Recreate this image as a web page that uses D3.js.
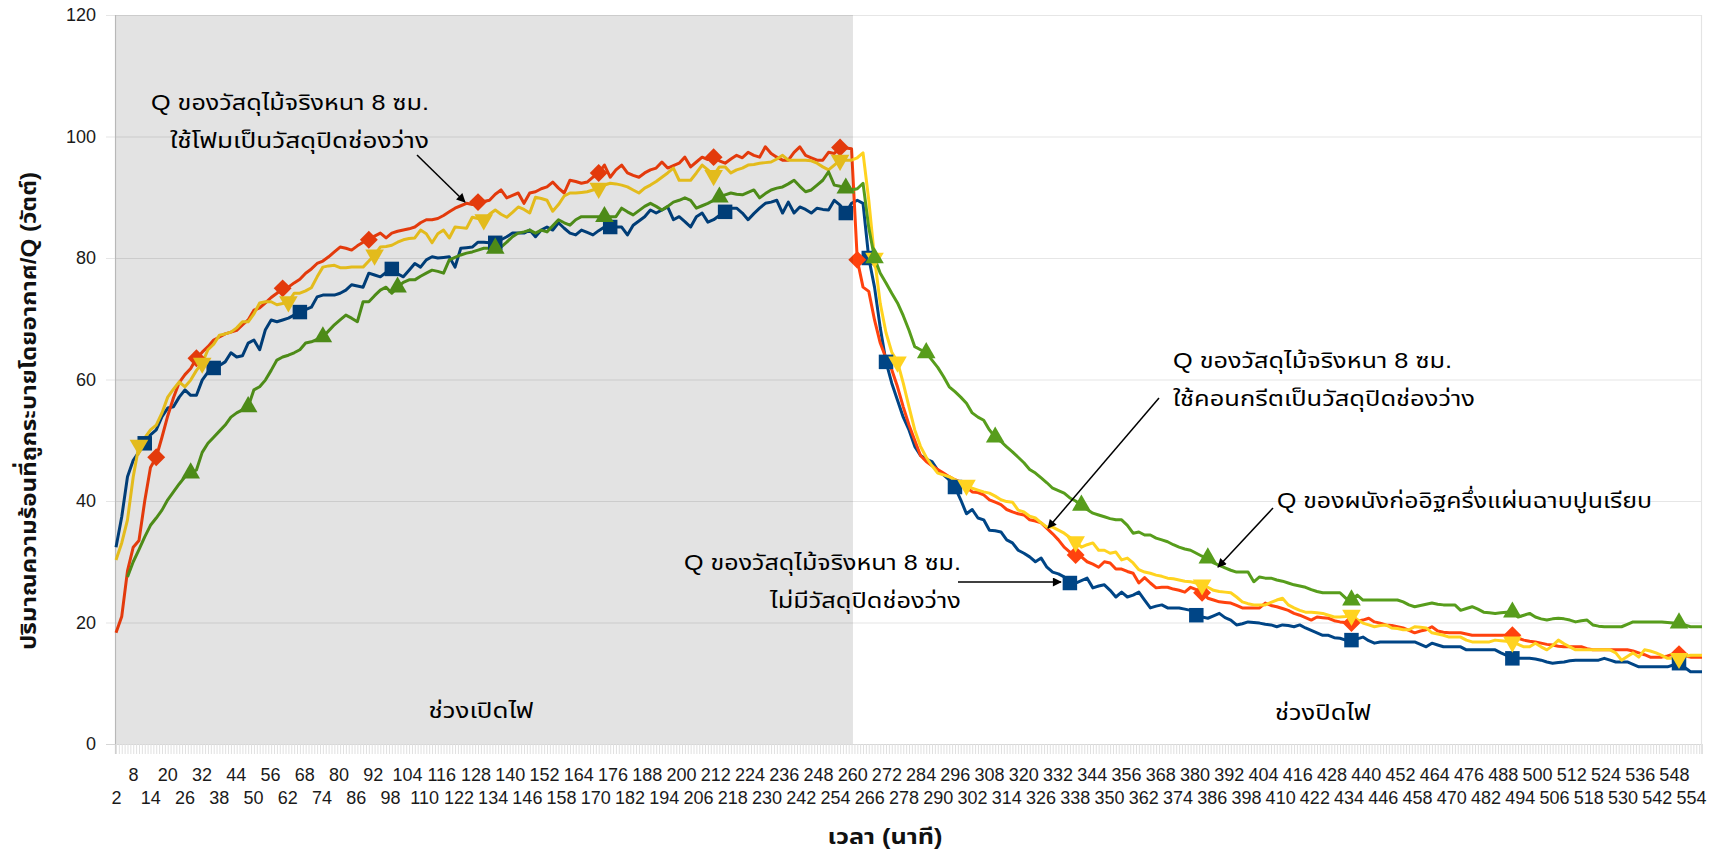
<!DOCTYPE html>
<html><head><meta charset="utf-8">
<script src="https://cdn.jsdelivr.net/npm/d3@7"></script>
<style>
html,body{margin:0;padding:0;background:#fff;}
svg{display:block;}
text{font-family:"Liberation Sans","Noto Sans Thai","Noto Sans",Arial,sans-serif;}
</style></head><body>
<svg id="chart" width="1716" height="854"></svg>
<script>
// ---------- DATA ----------
const minutes = d3.range(2, 556, 2); // 2,4,...,554 (นาที)
const yTicks = [0, 20, 40, 60, 80, 100, 120];
const lampOffMinute = 258.5;

const qNoFill = [ // blue, ไม่มีวัสดุปิดช่องว่าง
32.4,37.4,44,46.7,48.1,49.5,50.9,51.7,53.9,55.3,
55.5,57.1,58.3,57.4,57.4,59.9,61.2,61.9,62.3,62.9,
64.4,63.7,63.9,66,66.5,64.9,68.2,69.8,69.5,69.8,
70.1,70.6,71.1,71.5,71.9,73.6,73.9,73.9,73.9,74.2,
74.7,75.6,75.4,75.2,77.5,77.2,76.9,77.6,78.2,77.4,
76.9,78,79.1,78.5,79.7,80.2,80,80.1,80.2,78.5,
81.6,81.7,81.8,82.6,82.6,82.5,82.5,83,83.5,84.1,
84.1,84.1,84.6,83.5,84.6,85.1,84.6,85.8,84.9,84.1,
83.8,84.6,84.2,83.8,84.5,85.1,85.1,85.1,85.1,83.8,
85.4,86.1,86.8,87.9,87.4,87.9,88.4,86.3,86.8,86,
85.1,86.8,87.4,85.9,86.3,87,87.6,88.2,88.2,87.4,
86.3,87.3,88.2,89,89.2,89.5,87.4,89.2,87.4,88.4,
88,87.4,88.2,88,87.9,89.5,88.7,87.4,89,89.5,
89,80,75.2,68.5,62.9,59.4,56.6,53.8,51.7,49,
47.5,46.9,46.5,45.1,44.3,43.5,42.3,40.2,37.9,38.6,
37.2,36.9,35.2,35.1,34.9,33.6,33.1,31.9,31.4,30.8,
30,30.6,29.1,28.3,28,27.5,26.5,26.5,26.9,27.3,
25.7,26,26.2,25.3,24.2,25,24.2,24.5,25,23.7,
22.4,22.7,22.9,22.4,22.4,22.4,22.2,22,21.2,20.9,
20.7,21.1,21.5,20.8,20.4,19.6,19.8,20.1,20,19.9,
19.7,19.6,19.3,19.6,19.5,19.3,19.6,19.1,18.7,18.3,
17.9,17.9,17.5,17.4,17.1,17.1,17.3,17.6,17,16.6,
16.8,16.8,16.8,16.8,16.8,16.8,16.8,16.4,16,16.6,
16.3,16,16,16,16,15.5,15.5,15.5,15.5,15.5,
15.5,15,14.6,14.1,14.1,14.1,14.1,14,13.8,13.5,
13.3,13.4,13.5,13.7,13.8,13.8,13.8,13.8,13.8,14.1,
13.8,13.5,13.5,13.5,13.1,12.7,12.7,12.7,12.7,12.7,
12.7,13,13.3,12.6,11.9,11.9,11.9];

const qFoam = [ // red, ใช้โฟม
18.3,21,28.5,32.4,33.5,40,45.5,47.2,50.5,54,
57,59.5,60.8,61.8,63.5,64.5,65.4,66.5,67,67.5,
67.8,68.1,69,69.8,71.4,71.8,72.6,73.5,74.2,75,
75.2,75.9,76.5,77.5,78.2,79.1,79.5,80.2,81,81.8,
81.6,81.3,82,82.6,83,83.6,84.1,83.3,84.1,84.4,
84.6,84.8,85.1,85.8,86.3,86.3,86.5,87,87.6,88.2,
88.6,89,88.8,89.2,89.3,89.5,90.5,91.2,89.9,90.3,
90.7,89,90.7,90.9,91.4,91.7,92.5,91.5,90.7,92.8,
92.6,92.3,92.5,93.3,94,95.3,93.3,94.5,95.3,94,
93.6,93.3,94,94.5,94.8,95.8,94.8,95.2,95.6,96.6,
95,95.8,96.6,96.2,96.6,96,95.6,96.3,96.9,96.5,
97.4,96.9,96.6,98.3,97.2,96.6,96.1,96.1,97.4,98.3,
96.9,96.5,96.1,96.1,97.4,97.2,98.2,98.1,98,79.7,
75.2,74.5,69.8,66,63.5,61.6,58.8,55.5,52.5,50,
47.5,46.5,45.8,45.2,44.6,44,43.5,43.1,42.3,41.5,
41.4,41,40.2,39.8,39.4,38.6,38.2,37.9,37.7,36.9,
36.7,36.4,35.5,34.6,33.6,32.4,31.6,31.1,30.8,30,
29.6,29.1,30,29.8,28.8,28.8,28.4,28.1,26.5,27.4,
26.5,25.7,25.8,25.8,25.5,25.3,25,25.8,25.4,24.9,
24,23.7,23.4,23.3,23.2,22.8,22.4,22.4,22.4,22.4,
23.2,22.8,22.6,22.3,22,21.5,21.2,20.8,20.4,20.9,
20.8,20.7,20.3,20.1,20,19.9,20.2,20.4,20.7,20.1,
19.9,19.6,19.5,19.3,19.1,18.7,18.3,18.6,18.8,19.3,
18.6,18.4,18.3,18.3,18.3,18.1,17.9,17.9,17.9,17.9,
17.9,17.9,17.9,17.9,17.4,17.1,16.9,16.8,16.6,16.4,
16.3,16.1,16,16,16,16,15.7,15.5,15.5,15.5,
15.5,15.5,15.5,15.5,15.3,15,14.7,14.3,14.3,14.3,
14.5,14.8,14.8,14.5,14.3,14.3,14.3];

const qConcrete = [ // yellow, ใช้คอนกรีต
30.3,33.1,36.9,44,49.2,50.4,51.7,52.5,54.5,57.1,
58.4,59.6,58.8,59.9,61.5,62.7,64.9,65.8,67.3,67.5,
67.8,68.5,69.5,69.5,70.8,72.6,72.8,72.8,72.3,72.5,
72.8,74.2,74.2,74.6,75.1,76.9,78.5,78.7,78.8,78.4,
78.4,78.5,78.5,78.5,79.5,80.5,81.8,81.9,82.1,82.6,
83,83.2,83.3,84.6,84,82.5,84,84.6,83.3,85.1,
85,84.9,86.7,86.5,86.3,87.2,87.9,87.2,86.7,87.5,
88.4,88,87.4,90,89.8,89.5,87.7,88.8,90.2,90.7,
90.7,90.8,90.9,91.2,91.5,92,92.3,92.2,92,91.7,
91.2,90.7,91.5,92,92.6,93.3,94,94.8,92.8,92.8,
92.8,94,95.3,94.5,93.6,95,95,94,94.5,94.8,
95.3,95.4,95.6,95.7,95.8,96.3,96.9,96.1,96.1,96.1,
96.1,96,95.6,95,94.5,95.3,96.1,96.1,96.1,96.5,
97.3,89.5,80,72.5,67.7,64.5,62.9,59.4,55.5,51.7,
49,47.2,45.8,44.6,44.3,44,43.5,43,42.6,42.1,
41.8,41.5,41.3,40.8,40.2,39.9,39.8,38.5,38.2,37.5,
37.2,36.4,35.7,35.7,35.2,34.7,34,33.3,32.4,32.8,
33.1,31.9,31.9,31.4,31.6,30.3,30.6,29.8,28.7,28.3,
28.1,27.8,27.6,27.3,27.2,27,26.8,26.7,26.5,26.2,
25.8,25.3,25.1,25,24.9,24.2,23.4,23.1,22.9,22.9,
22.9,23.3,23.7,24,22.9,22.4,22,21.7,21.7,21.6,
21.5,21.2,20.9,20.9,21,21.2,20.5,19.9,19.6,19.3,
19.5,19.6,19.1,19,18.8,18.8,19.3,19.2,19.1,18.3,
18.1,17.9,17.6,17.6,17.6,17.1,16.8,16.8,16.8,16.8,
17.1,17,16.9,16.8,16.4,16,16,16.6,16,15.5,
16.2,17.1,16.5,16,15.5,15.5,15.5,15.5,15.5,15.5,
15.5,15,13.8,14.4,15,14.3,15.5,15.3,15,14.6,
14.1,14.1,14.1,14.4,14.6,14.6,14.6];

const qBrick = [ // green, ผนังก่ออิฐครึ่งแผ่น
null,null,27.5,30,32,34.1,36,37.2,38.5,40.2,
41.5,42.8,44,44.6,45.1,48,49.5,50.5,51.5,52.5,
53.8,54.5,55,55.5,58.3,58.8,59.9,61.5,63.2,63.7,
64,64.4,64.9,66,66.2,66.6,67,68,69,69.8,
70.6,70.1,69.5,72.8,72.8,73.8,74.7,75.2,74.2,75.2,
76,76.4,76.4,77,77.5,78,77.8,77.5,79.7,80.1,
80.5,80.8,81,81.3,81.6,81.6,81.6,81.8,82.6,83.5,
84.1,84.3,84.6,84.1,84.6,84.3,85.3,86.3,85.8,85.4,
86.3,86.8,86.8,86.8,86.8,86.8,86.8,86.8,88.2,87.6,
87.1,87.8,88.5,89,88.5,87.9,88.5,89.2,89.5,89.9,
89.5,88.2,88.6,89,89.5,90,90.4,90.7,90.5,90.4,
90.8,91.2,89.9,90.6,91.2,91.5,91.7,92.2,92.8,91.8,
90.9,91.2,92,92.8,94.2,92,91.8,91.5,91.2,91.4,
92.3,85,80,77.5,75.9,74.2,72.6,70.5,68.1,65.4,
64.9,64.4,63.2,62,60.5,58.8,58,57.1,56.1,54.5,
53.8,53.3,51.7,50.5,49.8,48.9,48.1,47.2,46.3,45.2,
44.6,43.8,43,42.1,41.7,41.3,40.5,40,39.3,38.6,
38,37.7,37.4,37.1,36.9,36.9,36,34.7,34.9,34.4,
34.4,33.9,33.6,33.3,32.8,32.4,32.1,31.9,31.4,30.9,
30.6,29.8,29.4,29,28.6,28.3,28.3,28.3,26.7,27.5,
27.3,27.3,27,26.8,26.5,26.2,26,25.8,25.4,25.1,
24.9,24.9,24.9,24.9,24,23.7,24.5,23.7,23.7,23.7,
23.7,23.7,23.7,23.7,23.4,22.9,22.6,22.8,23,23.2,
23,22.9,22.9,22.9,22,22.3,22.6,22.2,21.7,21.6,
21.5,21.6,21.7,21.7,20.9,21.2,21.5,20.9,20.6,20.4,
20.6,20.7,20.6,20.4,20.1,20.3,20.4,19.6,19.4,19.3,
19.3,19.3,19.3,19.7,20.1,20.1,20.1,20.1,20.1,20.1,
20,19.9,19.9,19.6,19.3,19.3,19.3];

// indices (into minutes) where the chart shows a marker
const markNoFill    = [5,17,32,48,66,86,106,127,131,134,146,166,188,215,243,272];
const markFoam      = [7,14,29,44,63,84,104,126,129,167,189,215,243,272];
const markConcrete  = [4,15,30,45,64,84,104,126,132,136,148,167,189,215,243,272];
const markBrick     = [13,23,36,49,66,85,105,127,132,141,153,168,190,215,243,272];

const series = [
  {name:"ไม่มีวัสดุปิดช่องว่าง", values:qNoFill, marks:markNoFill, color:"#004586", shape:"square"},
  {name:"ใช้โฟม", values:qFoam, marks:markFoam, color:"#ff420e", shape:"diamond"},
  {name:"ใช้คอนกรีต", values:qConcrete, marks:markConcrete, color:"#ffd320", shape:"down"},
  {name:"ผนังก่ออิฐ", values:qBrick, marks:markBrick, color:"#579d1c", shape:"up"}
];

// ---------- CHART ----------
const svg = d3.select("#chart");
const P = {left:115, right:1702, top:15, bottom:744};
const x = d3.scalePoint().domain(minutes).range([116, 1702]);
const xLabel = d3.scalePoint().domain(minutes).range([116, 1691]);
const xLin = d3.scaleLinear().domain([2, 554]).range([116, 1702]);
const y = d3.scaleLinear().domain([0, 120]).range([P.bottom, P.top]);

svg.append("rect").attr("width",1716).attr("height",854).attr("fill","#fff");

// gridlines
svg.append("g").selectAll("line").data(yTicks).join("line")
  .attr("x1",106).attr("x2",P.right).attr("y1",d=>y(d)+0.5).attr("y2",d=>y(d)+0.5)
  .attr("stroke",d=>d===0?"#d6d6d6":"#e6e6e6").attr("stroke-width",1.2);

// minor ticks under x axis
const tickG = svg.append("g").attr("transform",`translate(0,${P.bottom})`)
  .call(d3.axisBottom(x).tickValues(minutes).tickSize(10).tickFormat(""));
tickG.select(".domain").remove();
tickG.selectAll("line").attr("stroke","#e0e0e0");
const tickG2 = svg.append("g").attr("transform",`translate(${x.step()/2},${P.bottom})`)
  .call(d3.axisBottom(x).tickValues(minutes.slice(0,-1)).tickSize(10).tickFormat(""));
tickG2.select(".domain").remove();
tickG2.selectAll("line").attr("stroke","#e0e0e0");

// borders
svg.append("line").attr("x1",P.left+0.5).attr("x2",P.left+0.5).attr("y1",P.top).attr("y2",P.bottom+10).attr("stroke","#cfcfcf").attr("stroke-width",1.2);
svg.append("line").attr("x1",P.right-0.5).attr("x2",P.right-0.5).attr("y1",P.top).attr("y2",P.bottom+10).attr("stroke","#e4e4e4").attr("stroke-width",1.2);

// lines
const line = d3.line().defined(d=>d!=null).x((d,i)=>x(minutes[i])).y(d=>y(d));
const sym = {
  square: d3.symbol(d3.symbolSquare, 210)(),
  diamond: d3.symbol(d3.symbolSquare, 160)(),
  up: d3.symbol(d3.symbolTriangle, 150)(),
  down: d3.symbol(d3.symbolTriangle, 150)()
};
const rot = {square:0, diamond:45, up:0, down:180};
series.forEach(s=>{
  svg.append("path").datum(s.values).attr("d",line)
    .attr("fill","none").attr("stroke",s.color).attr("stroke-width",3)
    .attr("stroke-linejoin","round");
});
series.forEach(s=>{
  svg.append("g").selectAll("path").data(s.marks).join("path")
    .attr("d",sym[s.shape])
    .attr("transform",i=>`translate(${x(minutes[i])},${y(s.values[i])}) rotate(${rot[s.shape]})`)
    .attr("fill",s.color);
});

// lamp-on shaded region
svg.append("rect").attr("x",P.left).attr("y",P.top)
  .attr("width",xLin(lampOffMinute)-P.left).attr("height",P.bottom-P.top)
  .attr("fill","#000").attr("opacity",0.11);

// y axis
const yAx = svg.append("g").attr("transform",`translate(${P.left},0)`)
  .call(d3.axisLeft(y).tickValues(yTicks).tickSize(0).tickPadding(19));
yAx.select(".domain").remove();
yAx.selectAll("text").attr("font-size",18).attr("fill","#1a1a1a")
  .style("font-family","'Liberation Sans',Arial,sans-serif");

// x axis labels, two rows
const topRow = minutes.filter(m=>(m-8)%12===0);
const botRow = minutes.filter(m=>(m-2)%12===0);
[[topRow,24],[botRow,47]].forEach(([vals,pad])=>{
  const g = svg.append("g").attr("transform",`translate(0,${P.bottom})`)
    .call(d3.axisBottom(xLabel).tickValues(vals).tickSize(0).tickPadding(pad));
  g.select(".domain").remove();
  g.selectAll("text").attr("font-size",18).attr("fill","#1a1a1a")
    .style("font-family","'Liberation Sans',Arial,sans-serif");
});

// axis titles
svg.append("text").attr("transform","translate(28,411) rotate(-90)")
  .attr("text-anchor","middle").attr("dominant-baseline","central")
  .attr("font-size",22).attr("font-weight","bold").attr("fill","#111")
  .attr("textLength",478).attr("lengthAdjust","spacingAndGlyphs")
  .text("ปริมาณความร้อนที่ถูกระบายโดยอากาศ/Q (วัตต์)");
svg.append("text").attr("x",885).attr("y",836)
  .attr("text-anchor","middle").attr("dominant-baseline","central")
  .attr("font-size",22).attr("font-weight","bold").attr("fill","#111")
  .attr("textLength",115).attr("lengthAdjust","spacingAndGlyphs")
  .text("เวลา (นาที)");

// annotations
const defs = svg.append("defs");
defs.append("marker").attr("id","ah").attr("viewBox","0 0 10 10")
  .attr("refX",9).attr("refY",5).attr("markerWidth",11).attr("markerHeight",9)
  .attr("markerUnits","userSpaceOnUse").attr("orient","auto")
  .append("path").attr("d","M0,0 L10,5 L0,10 Z").attr("fill","#000");

const notes = [
  {t:"Q ของวัสดุไม้จริงหนา 8 ซม.", x:429, y:102, a:"end", w:278},
  {t:"ใช้โฟมเป็นวัสดุปิดช่องว่าง", x:429, y:140, a:"end", w:259},
  {t:"Q ของวัสดุไม้จริงหนา 8 ซม.", x:1173, y:360, a:"start", w:279},
  {t:"ใช้คอนกรีตเป็นวัสดุปิดช่องว่าง", x:1173, y:398, a:"start", w:302},
  {t:"Q ของวัสดุไม้จริงหนา 8 ซม.", x:961, y:562, a:"end", w:277},
  {t:"ไม่มีวัสดุปิดช่องว่าง", x:961, y:600, a:"end", w:191},
  {t:"Q ของผนังก่ออิฐครึ่งแผ่นฉาบปูนเรียบ", x:1277, y:500, a:"start", w:375},
  {t:"ช่วงเปิดไฟ", x:481, y:710, a:"middle", w:105},
  {t:"ช่วงปิดไฟ", x:1323, y:712, a:"middle", w:96}
];
svg.append("g").selectAll("text").data(notes).join("text")
  .attr("x",d=>d.x).attr("y",d=>d.y).attr("text-anchor",d=>d.a)
  .attr("dominant-baseline","central").attr("font-size",22).attr("fill","#000")
  .attr("textLength",d=>d.w).attr("lengthAdjust","spacingAndGlyphs")
  .text(d=>d.t);

const arrows = [
  [417,155,465,202],
  [1159,398,1048,528],
  [958,582,1061,582],
  [1273,508,1218,567]
];
svg.append("g").selectAll("line").data(arrows).join("line")
  .attr("x1",d=>d[0]).attr("y1",d=>d[1]).attr("x2",d=>d[2]).attr("y2",d=>d[3])
  .attr("stroke","#000").attr("stroke-width",1.5).attr("marker-end","url(#ah)");
</script>
</body></html>
